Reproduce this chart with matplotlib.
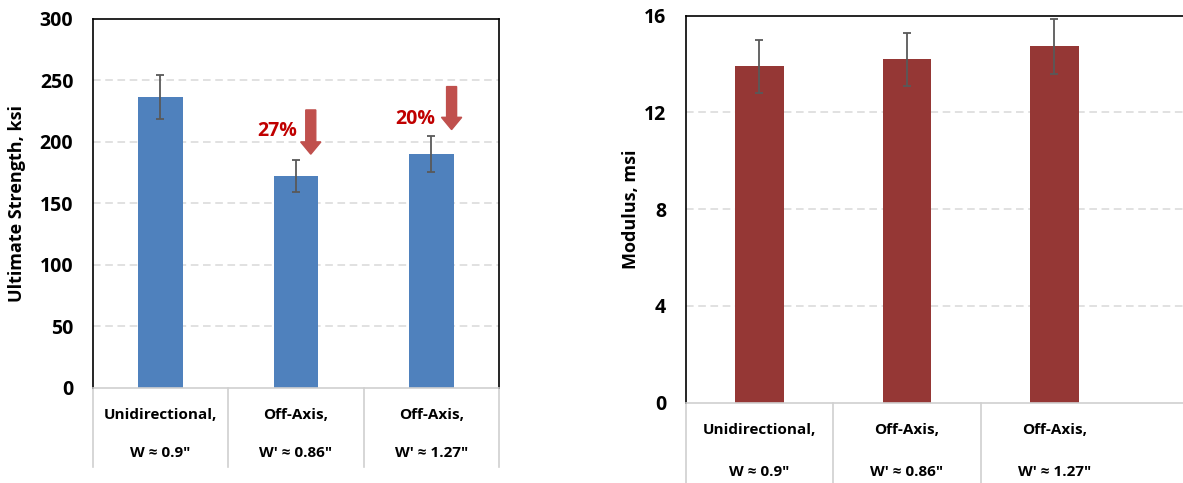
import matplotlib.pyplot as plt

# ------------------------------------------------------------
# Strength and modulus: unidirectional vs off-axis coupons
# ------------------------------------------------------------

CATEGORIES = [
    ("Unidirectional,", 'W \u2248 0.9"'),
    ("Off-Axis,", "W' \u2248 0.86\""),
    ("Off-Axis,", "W' \u2248 1.27\""),
]

STRENGTH = [236.5, 172.0, 190.0]
STRENGTH_ERR = [18.0, 13.0, 14.5]

MODULUS = [13.9, 14.2, 14.73]
MODULUS_ERR = [1.08, 1.1, 1.13]

# drop labels: (text, text x, text y, arrow x, arrow top, arrow tip)
DROPS = [
    ("27%", 0.86, 209, 1.11, 226, 190),
    ("20%", 1.88, 219, 2.15, 245, 210),
]

BLUE = "#4F81BD"
DARK_RED = "#953735"
ARROW_RED = "#C0504D"
TEXT_RED = "#C00000"
GRID = "#D9D9D9"
TABLE = "#D0D0D0"

plt.rcParams["font.family"] = ["Open Sans", "DejaVu Sans"]
plt.rcParams["font.weight"] = "bold"


def style_axes(ax, ymax, step, label, labelpad, label_y1, label_y2,
               table_bottom, seps):
    ticks = list(range(0, ymax + 1, step))
    ax.set_ylim(0, ymax)
    ax.set_yticks(ticks)
    ax.set_yticklabels([str(t) for t in ticks], fontsize=14, fontweight="bold")
    ax.tick_params(axis="y", length=0, pad=14)
    ax.set_xticks([])
    ax.set_ylabel(label, fontsize=13, fontweight="bold", labelpad=labelpad)

    for g in range(step, ymax, step):
        ax.axhline(g, color=GRID, linestyle=(0, (5, 3)), linewidth=1.1, zorder=0)

    for side in ("left", "top", "right"):
        ax.spines[side].set_color("black")
        ax.spines[side].set_linewidth(1.2)
    ax.spines["bottom"].set_color(TABLE)
    ax.spines["bottom"].set_linewidth(1.2)

    trans = ax.get_xaxis_transform()
    for x in seps:
        ax.plot([x, x], [0, table_bottom], color=TABLE, linewidth=1.2,
                transform=trans, clip_on=False)
    for i, (line1, line2) in enumerate(CATEGORIES):
        ax.text(i, label_y1, line1, transform=trans, ha="center", va="center",
                fontsize=11, fontweight="bold")
        ax.text(i, label_y2, line2, transform=trans, ha="center", va="center",
                fontsize=11, fontweight="bold")


fig = plt.figure(figsize=(11.83, 4.83), dpi=100)

# left: ultimate strength
ax1 = fig.add_axes([0.0784, 0.1973, 0.3434, 0.7634])
x = range(len(CATEGORIES))
ax1.bar(x, STRENGTH, width=0.33, color=BLUE, zorder=2)
ax1.errorbar(x, STRENGTH, yerr=STRENGTH_ERR, fmt="none", ecolor="#595959",
             elinewidth=1.3, capsize=3, capthick=1.3, zorder=3)
ax1.set_xlim(-0.5, 2.5)
style_axes(ax1, 300, 50, "Ultimate Strength, ksi", 10, -0.074, -0.177, -0.215,
           (-0.5, 0.5, 1.5, 2.5))

for text, tx, ty, ax_x, top, tip in DROPS:
    ax1.text(tx, ty, text, color=TEXT_RED, fontsize=14, fontweight="bold",
             ha="center", va="center")
    ax1.arrow(ax_x, top, 0, tip - top, width=0.074, head_width=0.15,
              head_length=10, length_includes_head=True,
              facecolor=ARROW_RED, edgecolor=ARROW_RED, zorder=4)

# right: modulus (runs past the right edge of the picture)
ax2 = fig.add_axes([0.5796, 0.1663, 0.4347, 0.8012])
ax2.bar(x, MODULUS, width=0.33, color=DARK_RED, zorder=2)
ax2.errorbar(x, MODULUS, yerr=MODULUS_ERR, fmt="none", ecolor="#595959",
             elinewidth=1.3, capsize=3, capthick=1.3, zorder=3)
ax2.set_xlim(-0.5, 2.987)
style_axes(ax2, 16, 4, "Modulus, msi", 3, -0.0705, -0.18, -0.35,
           (-0.5, 0.5, 1.5))

fig.savefig("out.png", dpi=100)
plt.close(fig)
